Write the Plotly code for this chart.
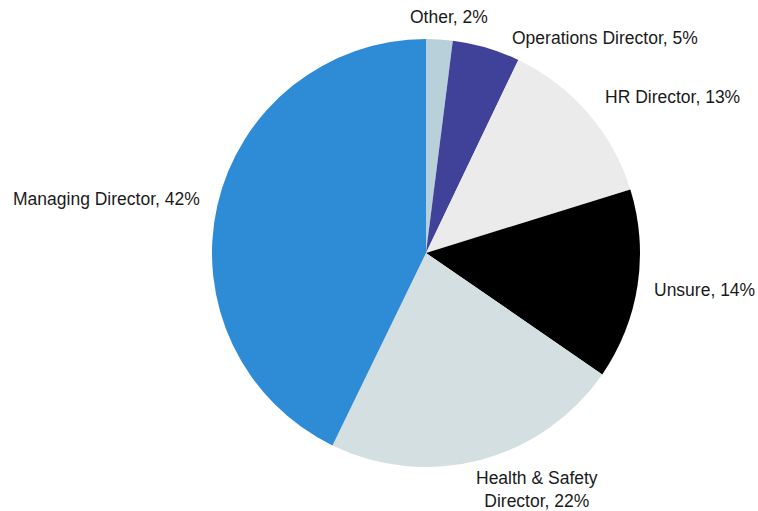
import plotly.graph_objects as go

# données (sens horaire depuis 12h)
roles = ["Other", "Operations Director", "HR Director", "Unsure",
         "Health & Safety Director", "Managing Director"]
shares = [2.0, 5.1, 13.1, 14.4, 22.6, 42.8]
pct_labels = ["2%", "5%", "13%", "14%", "22%", "42%"]
colors = ["#b7d0d9", "#40429a", "#ebebeb", "#000000", "#d3dfe1", "#2e8bd5"]

W, H = 758, 511
cx, cy, rad = 426, 253, 214

fig = go.Figure(go.Pie(
    labels=roles,
    values=shares,
    sort=False,
    direction="clockwise",
    rotation=0,
    marker=dict(colors=colors, line=dict(width=0)),
    textinfo="none",
    hoverinfo="label+percent",
    domain=dict(x=[(cx - rad) / W, (cx + rad) / W],
                y=[1 - (cy + rad) / H, 1 - (cy - rad) / H]),
    showlegend=False,
))

# positions des étiquettes (pixels, centre du texte)
label_pos = [(449, 17), (605, 38), (672, 97), (704, 290), (537, 489), (106, 199)]
for role, pct, (px, py) in zip(roles, pct_labels, label_pos):
    txt = f"{role}, {pct}"
    if role.startswith("Health"):
        txt = f"Health & Safety<br>Director, {pct}"
    fig.add_annotation(
        x=px / W, y=1 - py / H, xref="paper", yref="paper",
        text=txt, showarrow=False, xanchor="center", yanchor="middle",
        font=dict(family="Liberation Sans, Arial, sans-serif", size=17.5, color="#1a1a1a"),
    )

fig.update_layout(
    width=W, height=H,
    margin=dict(l=0, r=0, t=0, b=0),
    paper_bgcolor="white",
    plot_bgcolor="white",
)

# pas de marge autour du graphique dans la page, pas de barre d'outils
fig.write_html("out.html", config={"displayModeBar": False},
               post_script="document.body.style.margin='0';")
